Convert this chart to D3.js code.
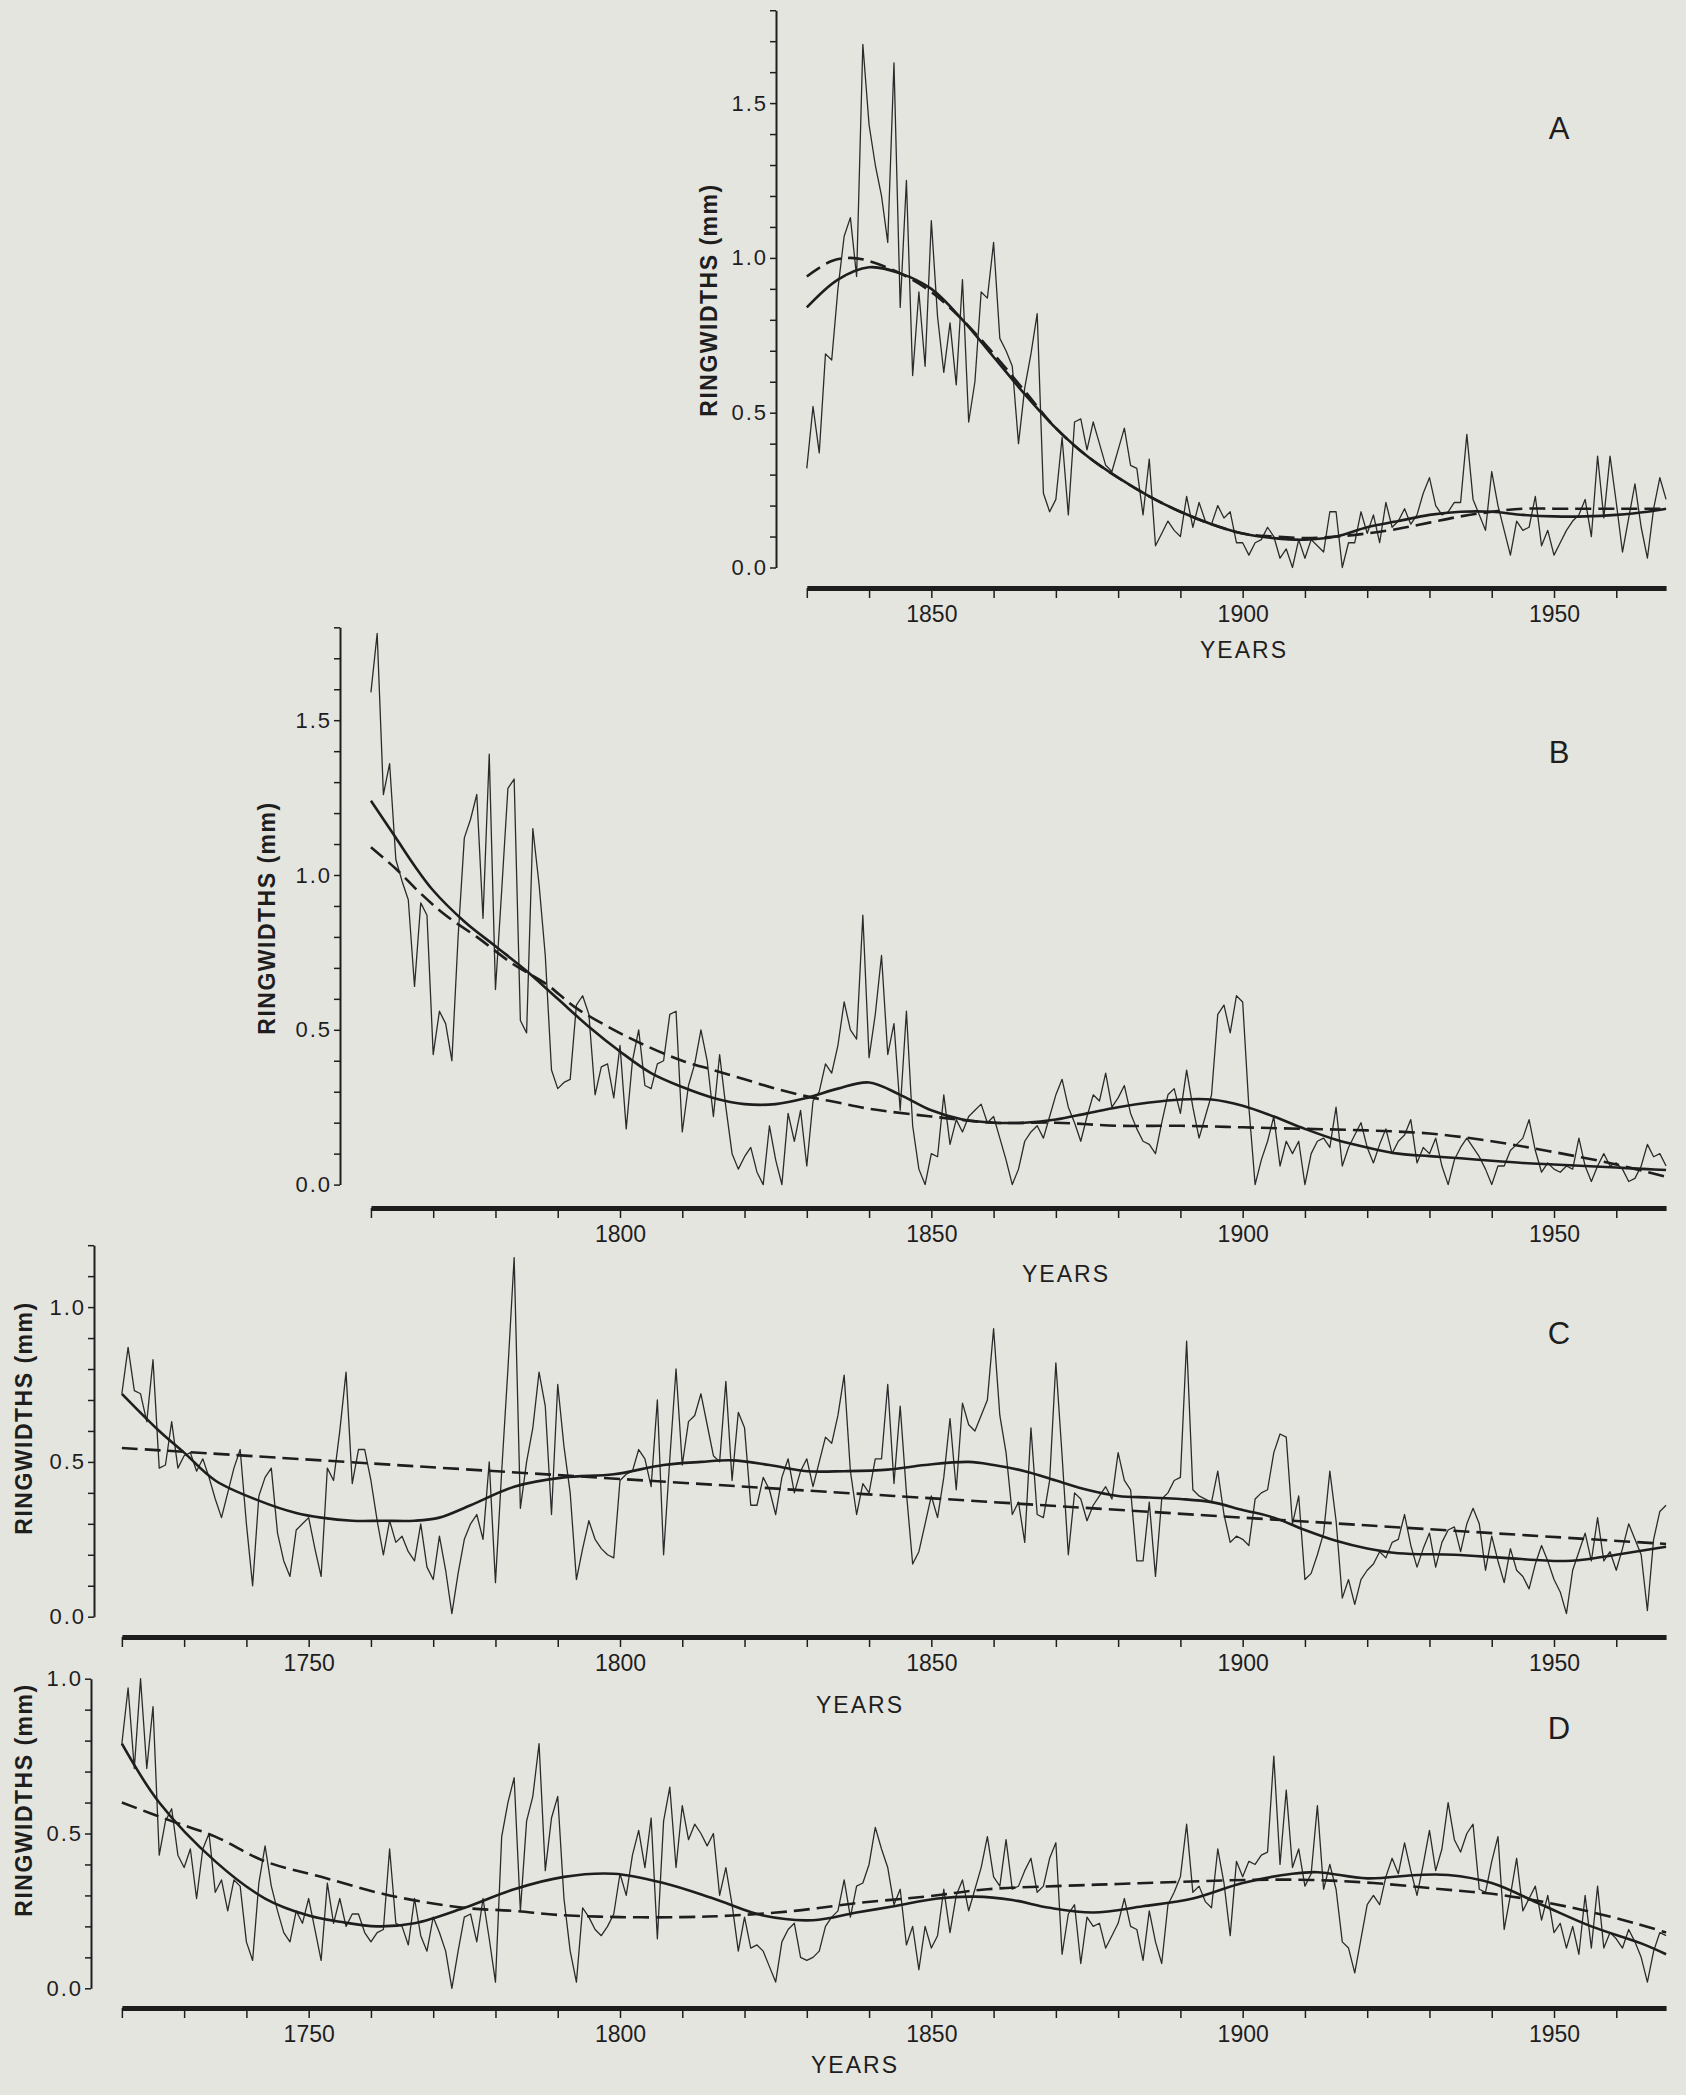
<!DOCTYPE html>
<html>
<head>
<meta charset="utf-8">
<script src="https://d3js.org/d3.v7.min.js"></script>
<style>
  body { margin: 0; background: #e5e5e0; }
  svg { display: block; }
  text { font-family: "Liberation Sans", Arial, sans-serif; fill: #1e1e1e; }
</style>
</head>
<body>
<div id="chart"></div>
<script>
// ring widths (mm), one value per year
const startA = 1830;
const rawA = [
  0.32, 0.52, 0.37, 0.69, 0.67, 0.90, 1.07, 1.13, 0.94, 1.69, // 1830
  1.43, 1.30, 1.20, 1.05, 1.63, 0.84, 1.25, 0.62, 0.89, 0.65, // 1840
  1.12, 0.81, 0.63, 0.79, 0.59, 0.93, 0.47, 0.60, 0.89, 0.87, // 1850
  1.05, 0.74, 0.70, 0.65, 0.40, 0.58, 0.69, 0.82, 0.24, 0.18, // 1860
  0.22, 0.42, 0.17, 0.47, 0.48, 0.38, 0.47, 0.40, 0.33, 0.31, // 1870
  0.38, 0.45, 0.33, 0.32, 0.17, 0.35, 0.07, 0.11, 0.15, 0.12, // 1880
  0.10, 0.23, 0.13, 0.21, 0.15, 0.14, 0.20, 0.16, 0.18, 0.08, // 1890
  0.08, 0.04, 0.08, 0.09, 0.13, 0.10, 0.03, 0.06, 0.00, 0.09, // 1900
  0.03, 0.09, 0.07, 0.05, 0.18, 0.18, 0.00, 0.08, 0.08, 0.18, // 1910
  0.11, 0.17, 0.08, 0.21, 0.13, 0.15, 0.19, 0.14, 0.17, 0.24, // 1920
  0.29, 0.20, 0.17, 0.18, 0.21, 0.21, 0.43, 0.22, 0.17, 0.12, // 1930
  0.31, 0.20, 0.12, 0.04, 0.15, 0.12, 0.13, 0.23, 0.07, 0.12, // 1940
  0.04, 0.08, 0.12, 0.15, 0.17, 0.22, 0.10, 0.36, 0.16, 0.36, // 1950
  0.21, 0.05, 0.16, 0.27, 0.13, 0.03, 0.19, 0.29, 0.22        // 1960
];

const startB = 1760;
const rawB = [
  1.59, 1.78, 1.26, 1.36, 1.05, 0.98, 0.92, 0.64, 0.91, 0.87, // 1760
  0.42, 0.56, 0.52, 0.40, 0.80, 1.12, 1.18, 1.26, 0.86, 1.39, // 1770
  0.63, 0.95, 1.28, 1.31, 0.53, 0.49, 1.15, 0.97, 0.74, 0.37, // 1780
  0.31, 0.33, 0.34, 0.58, 0.61, 0.55, 0.29, 0.38, 0.39, 0.28, // 1790
  0.45, 0.18, 0.40, 0.50, 0.32, 0.31, 0.39, 0.40, 0.55, 0.56, // 1800
  0.17, 0.32, 0.39, 0.50, 0.40, 0.22, 0.42, 0.25, 0.10, 0.05, // 1810
  0.09, 0.12, 0.04, 0.00, 0.19, 0.08, 0.00, 0.23, 0.14, 0.24, // 1820
  0.06, 0.27, 0.30, 0.39, 0.36, 0.45, 0.59, 0.50, 0.47, 0.87, // 1830
  0.41, 0.55, 0.74, 0.42, 0.52, 0.24, 0.56, 0.19, 0.05, 0.00, // 1840
  0.10, 0.09, 0.29, 0.13, 0.21, 0.17, 0.22, 0.24, 0.26, 0.20, // 1850
  0.22, 0.15, 0.08, 0.00, 0.05, 0.14, 0.17, 0.19, 0.15, 0.22, // 1860
  0.29, 0.34, 0.25, 0.20, 0.14, 0.22, 0.29, 0.27, 0.36, 0.25, // 1870
  0.28, 0.32, 0.23, 0.18, 0.14, 0.13, 0.10, 0.20, 0.29, 0.31, // 1880
  0.23, 0.37, 0.25, 0.15, 0.22, 0.29, 0.55, 0.58, 0.49, 0.61, // 1890
  0.59, 0.25, 0.00, 0.08, 0.14, 0.22, 0.06, 0.14, 0.10, 0.14, // 1900
  0.00, 0.10, 0.14, 0.15, 0.12, 0.25, 0.06, 0.12, 0.16, 0.20, // 1910
  0.12, 0.07, 0.13, 0.18, 0.10, 0.14, 0.16, 0.21, 0.07, 0.12, // 1920
  0.10, 0.15, 0.06, 0.00, 0.08, 0.12, 0.15, 0.12, 0.09, 0.05, // 1930
  0.00, 0.06, 0.06, 0.11, 0.13, 0.15, 0.21, 0.11, 0.04, 0.07, // 1940
  0.05, 0.04, 0.06, 0.05, 0.15, 0.06, 0.01, 0.06, 0.10, 0.06, // 1950
  0.07, 0.05, 0.01, 0.02, 0.06, 0.13, 0.09, 0.10, 0.06        // 1960
];

const startC = 1720;
const rawC = [
  0.72, 0.87, 0.73, 0.72, 0.63, 0.83, 0.48, 0.49, 0.63, 0.48, // 1720
  0.52, 0.53, 0.47, 0.51, 0.45, 0.38, 0.32, 0.40, 0.48, 0.54, // 1730
  0.30, 0.10, 0.39, 0.45, 0.48, 0.27, 0.18, 0.13, 0.28, 0.30, // 1740
  0.32, 0.22, 0.13, 0.48, 0.44, 0.60, 0.79, 0.43, 0.54, 0.54, // 1750
  0.44, 0.31, 0.20, 0.31, 0.24, 0.26, 0.21, 0.18, 0.30, 0.16, // 1760
  0.12, 0.26, 0.15, 0.01, 0.14, 0.25, 0.30, 0.33, 0.25, 0.50, // 1770
  0.11, 0.47, 0.80, 1.16, 0.35, 0.50, 0.61, 0.79, 0.68, 0.33, // 1780
  0.75, 0.55, 0.40, 0.12, 0.22, 0.31, 0.25, 0.22, 0.20, 0.19, // 1790
  0.44, 0.46, 0.47, 0.54, 0.51, 0.42, 0.70, 0.20, 0.51, 0.80, // 1800
  0.49, 0.63, 0.65, 0.72, 0.62, 0.52, 0.50, 0.76, 0.44, 0.66, // 1810
  0.61, 0.36, 0.36, 0.45, 0.41, 0.33, 0.45, 0.51, 0.40, 0.47, // 1820
  0.51, 0.42, 0.50, 0.58, 0.56, 0.65, 0.78, 0.47, 0.33, 0.43, // 1830
  0.40, 0.51, 0.51, 0.75, 0.43, 0.68, 0.40, 0.17, 0.21, 0.30, // 1840
  0.39, 0.32, 0.45, 0.64, 0.41, 0.69, 0.62, 0.60, 0.65, 0.70, // 1850
  0.93, 0.65, 0.53, 0.33, 0.37, 0.24, 0.61, 0.33, 0.32, 0.44, // 1860
  0.82, 0.52, 0.20, 0.40, 0.38, 0.31, 0.36, 0.39, 0.42, 0.38, // 1870
  0.53, 0.44, 0.41, 0.18, 0.18, 0.37, 0.13, 0.38, 0.40, 0.44, // 1880
  0.45, 0.89, 0.41, 0.39, 0.38, 0.37, 0.47, 0.33, 0.24, 0.26, // 1890
  0.25, 0.23, 0.38, 0.40, 0.41, 0.53, 0.59, 0.58, 0.30, 0.39, // 1900
  0.12, 0.14, 0.20, 0.27, 0.47, 0.31, 0.06, 0.12, 0.04, 0.12, // 1910
  0.15, 0.17, 0.21, 0.19, 0.24, 0.25, 0.33, 0.23, 0.16, 0.22, // 1920
  0.27, 0.16, 0.24, 0.28, 0.29, 0.21, 0.30, 0.35, 0.30, 0.15, // 1930
  0.26, 0.18, 0.11, 0.22, 0.15, 0.13, 0.09, 0.17, 0.23, 0.18, // 1940
  0.12, 0.08, 0.01, 0.15, 0.21, 0.27, 0.18, 0.32, 0.18, 0.21, // 1950
  0.15, 0.22, 0.30, 0.25, 0.20, 0.02, 0.25, 0.34, 0.36        // 1960
];

const startD = 1720;
const rawD = [
  0.79, 0.97, 0.71, 1.00, 0.71, 0.91, 0.43, 0.54, 0.58, 0.43, // 1720
  0.39, 0.45, 0.29, 0.45, 0.50, 0.31, 0.35, 0.25, 0.35, 0.33, // 1730
  0.15, 0.09, 0.34, 0.46, 0.33, 0.25, 0.18, 0.15, 0.25, 0.21, // 1740
  0.29, 0.19, 0.09, 0.34, 0.21, 0.29, 0.20, 0.24, 0.24, 0.18, // 1750
  0.15, 0.18, 0.19, 0.45, 0.21, 0.20, 0.14, 0.29, 0.17, 0.12, // 1760
  0.23, 0.18, 0.12, 0.00, 0.12, 0.23, 0.24, 0.15, 0.29, 0.16, // 1770
  0.02, 0.49, 0.60, 0.68, 0.25, 0.54, 0.62, 0.79, 0.38, 0.55, // 1780
  0.62, 0.29, 0.12, 0.02, 0.26, 0.23, 0.19, 0.17, 0.20, 0.24, // 1790
  0.37, 0.30, 0.43, 0.51, 0.39, 0.55, 0.16, 0.54, 0.65, 0.39, // 1800
  0.59, 0.48, 0.53, 0.50, 0.46, 0.50, 0.30, 0.39, 0.27, 0.12, // 1810
  0.23, 0.13, 0.14, 0.12, 0.07, 0.02, 0.15, 0.19, 0.21, 0.10, // 1820
  0.09, 0.10, 0.12, 0.20, 0.23, 0.25, 0.35, 0.23, 0.33, 0.34, // 1830
  0.40, 0.52, 0.45, 0.39, 0.27, 0.32, 0.14, 0.20, 0.06, 0.20, // 1840
  0.13, 0.17, 0.32, 0.18, 0.30, 0.35, 0.25, 0.32, 0.39, 0.49, // 1850
  0.36, 0.33, 0.48, 0.32, 0.33, 0.38, 0.42, 0.31, 0.33, 0.42, // 1860
  0.47, 0.11, 0.24, 0.27, 0.08, 0.23, 0.20, 0.21, 0.13, 0.17, // 1870
  0.21, 0.29, 0.20, 0.19, 0.09, 0.25, 0.15, 0.08, 0.27, 0.31, // 1880
  0.36, 0.53, 0.31, 0.33, 0.28, 0.26, 0.45, 0.34, 0.17, 0.41, // 1890
  0.36, 0.41, 0.40, 0.43, 0.44, 0.75, 0.40, 0.64, 0.39, 0.45, // 1900
  0.33, 0.37, 0.59, 0.32, 0.40, 0.32, 0.15, 0.13, 0.05, 0.16, // 1910
  0.27, 0.30, 0.27, 0.36, 0.42, 0.37, 0.47, 0.38, 0.30, 0.40, // 1920
  0.51, 0.38, 0.45, 0.60, 0.48, 0.44, 0.50, 0.53, 0.32, 0.31, // 1930
  0.41, 0.49, 0.19, 0.30, 0.42, 0.25, 0.29, 0.33, 0.22, 0.30, // 1940
  0.18, 0.21, 0.13, 0.20, 0.11, 0.30, 0.13, 0.33, 0.13, 0.18, // 1950
  0.16, 0.13, 0.19, 0.15, 0.10, 0.02, 0.12, 0.18, 0.17        // 1960
];

// fitted curves: [year, mm]  (solid = spline, dashed = growth curve)
const splineA = [[1830,0.84],[1835,0.93],[1840,0.97],[1845,0.95],[1850,0.90],[1855,0.80],[1860,0.68],[1865,0.56],[1870,0.45],[1875,0.36],[1880,0.29],[1885,0.23],[1890,0.18],[1895,0.14],[1900,0.11],[1905,0.095],[1910,0.09],[1915,0.10],[1920,0.13],[1925,0.15],[1930,0.17],[1935,0.18],[1940,0.18],[1945,0.17],[1950,0.165],[1955,0.165],[1960,0.17],[1965,0.18],[1968,0.19]];
const curveA = [[1830,0.94],[1834,0.99],[1837,1.00],[1840,0.99],[1845,0.95],[1850,0.89],[1855,0.80],[1860,0.69],[1865,0.57],[1870,0.45],[1875,0.36],[1880,0.29],[1885,0.23],[1890,0.18],[1895,0.14],[1900,0.11],[1905,0.10],[1910,0.095],[1915,0.10],[1920,0.11],[1925,0.125],[1930,0.145],[1935,0.165],[1940,0.18],[1945,0.19],[1950,0.19],[1960,0.19],[1968,0.19]];

const splineB = [[1760,1.24],[1764,1.12],[1767,1.03],[1770,0.95],[1775,0.85],[1780,0.77],[1785,0.69],[1790,0.60],[1795,0.51],[1800,0.43],[1805,0.36],[1810,0.315],[1815,0.28],[1820,0.26],[1825,0.26],[1830,0.28],[1835,0.31],[1840,0.33],[1845,0.29],[1850,0.24],[1855,0.21],[1860,0.20],[1865,0.20],[1870,0.21],[1875,0.23],[1880,0.25],[1885,0.265],[1890,0.275],[1895,0.275],[1900,0.255],[1905,0.22],[1910,0.18],[1915,0.145],[1920,0.12],[1925,0.10],[1930,0.092],[1935,0.085],[1940,0.077],[1945,0.07],[1950,0.065],[1955,0.06],[1960,0.055],[1965,0.05],[1968,0.047]];
const curveB = [[1760,1.09],[1764,1.02],[1768,0.94],[1772,0.87],[1777,0.80],[1783,0.71],[1788,0.65],[1793,0.57],[1799,0.50],[1804,0.45],[1810,0.40],[1815,0.37],[1820,0.34],[1825,0.31],[1830,0.285],[1835,0.265],[1840,0.245],[1850,0.22],[1860,0.20],[1870,0.20],[1880,0.19],[1890,0.19],[1900,0.185],[1910,0.18],[1920,0.175],[1930,0.165],[1940,0.14],[1950,0.105],[1960,0.065],[1968,0.025]];

const splineC = [[1720,0.72],[1726,0.60],[1730,0.53],[1735,0.44],[1742,0.375],[1748,0.335],[1752,0.32],[1757,0.31],[1762,0.31],[1767,0.31],[1771,0.32],[1776,0.36],[1783,0.42],[1791,0.45],[1799,0.46],[1807,0.49],[1813,0.50],[1818,0.505],[1824,0.49],[1830,0.47],[1836,0.47],[1843,0.475],[1849,0.49],[1856,0.50],[1860,0.49],[1865,0.47],[1870,0.44],[1875,0.41],[1880,0.39],[1885,0.385],[1890,0.38],[1895,0.37],[1900,0.345],[1905,0.32],[1910,0.28],[1915,0.245],[1920,0.22],[1925,0.205],[1934,0.20],[1942,0.19],[1951,0.18],[1955,0.185],[1960,0.20],[1968,0.226]];
const curveC = [[1720,0.545],[1844,0.39],[1968,0.235]];

const splineD = [[1720,0.79],[1726,0.60],[1735,0.41],[1743,0.29],[1750,0.235],[1755,0.215],[1761,0.20],[1767,0.21],[1775,0.26],[1783,0.32],[1791,0.36],[1799,0.37],[1807,0.34],[1815,0.29],[1823,0.235],[1831,0.22],[1838,0.245],[1844,0.265],[1851,0.29],[1857,0.296],[1863,0.285],[1869,0.26],[1876,0.245],[1884,0.265],[1892,0.29],[1900,0.34],[1908,0.37],[1912,0.375],[1920,0.355],[1928,0.366],[1933,0.366],[1940,0.34],[1948,0.27],[1956,0.20],[1964,0.145],[1968,0.11]];
const curveD = [[1720,0.60],[1728,0.54],[1735,0.49],[1743,0.41],[1752,0.36],[1763,0.30],[1775,0.26],[1783,0.25],[1790,0.237],[1800,0.23],[1810,0.23],[1818,0.235],[1828,0.25],[1838,0.275],[1849,0.296],[1859,0.32],[1870,0.33],[1880,0.337],[1890,0.344],[1901,0.35],[1911,0.35],[1921,0.34],[1932,0.32],[1942,0.30],[1953,0.26],[1963,0.21],[1968,0.18]];

// tick labels
const yTickLabels = [0.0, 0.5, 1.0, 1.5];
const xTickLabels = [1750, 1800, 1850, 1900, 1950];
const panelLetters = ["A", "B", "C", "D"];
const lastYear = 1968;

const w = 1686, h = 2095;
const pxPerMM = 309.6;

let svg = d3.select("#chart")
    .append("svg")
    .attr("width", w)
    .attr("height", h);

svg.append("rect").attr("width", w).attr("height", h).attr("fill", "#e5e5e0");

// same year scale for all four panels
const x = d3.scaleLinear().domain([1800, 1950]).range([620, 1554]);

// layout of each panel (pixels)
const panels = [
  {raw: rawA, start: startA, spline: splineA, curve: curveA, yMax: 1.8, y0: 567.5, axisX: 776, axisY: 588,
   labelX: 709, labelY: 300, yearsX: 1244, yearsY: 650, letterY: 128},
  {raw: rawB, start: startB, spline: splineB, curve: curveB, yMax: 1.8, y0: 1184.6, axisX: 340, axisY: 1208,
   labelX: 267, labelY: 918, yearsX: 1066, yearsY: 1274, letterY: 752},
  {raw: rawC, start: startC, spline: splineC, curve: curveC, yMax: 1.2, y0: 1616.7, axisX: 94, axisY: 1637,
   labelX: 24, labelY: 1418, yearsX: 860, yearsY: 1705, letterY: 1333},
  {raw: rawD, start: startD, spline: splineD, curve: curveD, yMax: 1.0, y0: 1988.3, axisX: 91, axisY: 2008,
   labelX: 24, labelY: 1800, letterY: 1728, yearsX: 855, yearsY: 2065}
];

panels.forEach((p, k) => {
    let y = d3.scaleLinear()
        .domain([0, p.yMax])
        .range([p.y0, p.y0 - p.yMax * pxPerMM]);

    let g = svg.append("g");

    // raw ring widths
    let rawLine = d3.line()
        .x((d, i) => x(p.start + i))
        .y(d => y(d));
    g.append("path")
        .datum(p.raw)
        .attr("d", rawLine)
        .attr("fill", "none")
        .attr("stroke", "#2b2b2b")
        .attr("stroke-width", 1.3)
        .attr("stroke-linejoin", "round");

    let smooth = d3.line()
        .x(d => x(d[0]))
        .y(d => y(d[1]))
        .curve(d3.curveCatmullRom.alpha(0.5));

    // dashed growth curve
    g.append("path")
        .datum(p.curve)
        .attr("d", smooth)
        .attr("fill", "none")
        .attr("stroke", "#1e1e1e")
        .attr("stroke-width", 2.6)
        .attr("stroke-dasharray", "16,7");

    // solid spline
    g.append("path")
        .datum(p.spline)
        .attr("d", smooth)
        .attr("fill", "none")
        .attr("stroke", "#1e1e1e")
        .attr("stroke-width", 2.6);

    // y axis
    let yTicks = d3.range(0, p.yMax + 0.001, 0.1).map(v => +v.toFixed(1));
    let labelled = yTickLabels.filter(v => v <= p.yMax);
    let yAxis = d3.axisLeft(y)
        .tickValues(yTicks)
        .tickSize(6)
        .tickSizeOuter(0)
        .tickPadding(2)
        .tickFormat(v => labelled.some(l => Math.abs(l - v) < 1e-6) ? d3.format(".1f")(v) : "");
    let ya = g.append("g")
        .attr("transform", "translate(" + p.axisX + ",0)")
        .call(yAxis);
    ya.select(".domain").attr("stroke", "#1e1e1e").attr("stroke-width", 2);
    ya.selectAll(".tick line").attr("stroke", "#1e1e1e").attr("stroke-width", 1.5);
    ya.selectAll(".tick text")
        .attr("font-family", "Liberation Sans, Arial, sans-serif")
        .attr("font-size", 22)
        .attr("letter-spacing", 2)
        .attr("fill", "#1e1e1e");

    // x axis
    let xTicks = d3.range(p.start, lastYear, 10);
    let xs = x.copy().domain([p.start, lastYear]).range([x(p.start), x(lastYear)]);
    let xAxis = d3.axisBottom(xs)
        .tickValues(xTicks)
        .tickSize(10)
        .tickSizeOuter(0)
        .tickPadding(8)
        .tickFormat(v => xTickLabels.includes(v) ? v : "");
    let xa = g.append("g")
        .attr("transform", "translate(0," + p.axisY + ")")
        .call(xAxis);
    xa.select(".domain").attr("stroke", "#1e1e1e").attr("stroke-width", 5);
    xa.selectAll(".tick line").attr("stroke", "#1e1e1e").attr("stroke-width", 1.5);
    xa.selectAll(".tick text")
        .attr("font-family", "Liberation Sans, Arial, sans-serif")
        .attr("font-size", 23)
        .attr("fill", "#1e1e1e");

    // axis titles
    g.append("text")
        .attr("x", p.yearsX)
        .attr("y", p.yearsY)
        .attr("text-anchor", "middle")
        .attr("dominant-baseline", "central")
        .attr("font-size", 23)
        .attr("letter-spacing", 2)
        .text("YEARS");

    g.append("text")
        .attr("transform", "translate(" + p.labelX + "," + p.labelY + ") rotate(-90)")
        .attr("text-anchor", "middle")
        .attr("dominant-baseline", "central")
        .attr("font-size", 23)
        .attr("font-weight", "bold")
        .attr("letter-spacing", 1.5)
        .text("RINGWIDTHS (mm)");

    // panel letter
    g.append("text")
        .attr("x", 1559)
        .attr("y", p.letterY)
        .attr("text-anchor", "middle")
        .attr("dominant-baseline", "central")
        .attr("font-size", 31)
        .text(panelLetters[k]);
});
</script>
</body>
</html>
